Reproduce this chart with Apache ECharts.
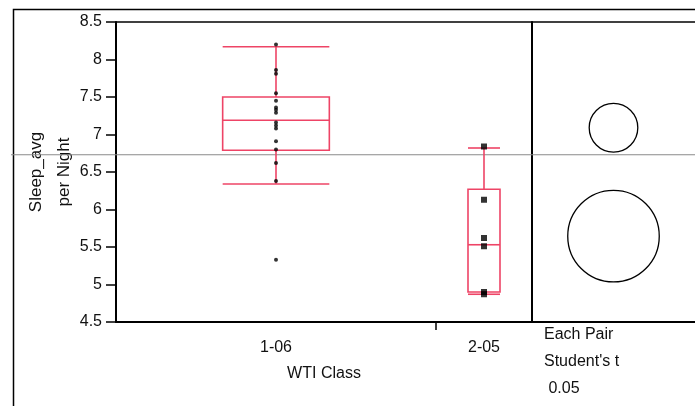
<!DOCTYPE html>
<html><head><meta charset="utf-8">
<script src="https://cdn.jsdelivr.net/npm/echarts@6/dist/echarts.min.js"></script>
<style>html,body{margin:0;padding:0;background:#fff}#c{width:695px;height:406px}</style>
</head><body><div id="c"></div>
<script>
// ---- data ----
const categories = ['1-06', '2-05'];
const groupN = [20, 6];                      // sample sizes (set the category widths)
const points1 = [8.20, 7.86, 7.81, 7.55, 7.45, 7.36, 7.33, 7.29, 7.16, 7.12, 7.08, 6.91, 6.80, 6.62, 6.38, 5.33];
const points2 = [6.84, 6.13, 5.62, 5.51, 4.90, 4.87];
const boxLow    = [6.34, 4.87];
const boxQ1     = [6.79, 4.90];
const boxMedian = [7.19, 5.53];
const boxQ3     = [7.50, 6.27];
const boxHigh   = [8.17, 6.82];
const grandMean = 6.73;
const circleMeans = [7.09, 5.645];
const circleRadii = [0.324, 0.61];
const yMin = 4.5, yMax = 8.5, yStep = 0.5;
const noteLines = ['Each Pair', "Student's t", ' 0.05'];

// ---- helpers ----
const starts = groupN.map((n, i) => groupN.slice(0, i).reduce((a, b) => a + b, 0));
const centers = groupN.map((n, i) => starts[i] + n / 2);
const total = groupN.reduce((a, b) => a + b, 0);
const boundaries = starts.slice(1);
const FONT = '"Liberation Sans", Arial, sans-serif';
const BOX = '#ee4466';

const boxData = categories.map((c, i) => [i, boxLow[i], boxQ1[i], boxMedian[i], boxQ3[i], boxHigh[i]]);

const chart = echarts.init(document.getElementById('c'), null, {renderer: 'canvas'});
chart.setOption({
  animation: false,
  backgroundColor: '#fff',
  textStyle: {fontFamily: FONT},
  grid: [
    {left: 116, top: 22, width: 416, height: 300, show: false},
    {left: 532, top: 22, width: 163, height: 300, show: false}
  ],
  xAxis: [
    {gridIndex: 0, type: 'value', min: 0, max: total,
     axisLine: {show: true, lineStyle: {color: '#000', width: 2}},
     axisTick: {show: true, customValues: boundaries, length: 8, lineStyle: {color: '#000', width: 1.5}},
     axisLabel: {show: true, customValues: centers, margin: 18, color: '#111', fontSize: 16, fontFamily: FONT,
       formatter: v => { const i = centers.findIndex(c => Math.abs(c - v) < 1e-6); return i >= 0 ? categories[i] : ''; }},
     splitLine: {show: false},
     name: 'WTI Class', nameLocation: 'middle', nameGap: 44, nameMoveOverlap: false,
     nameTextStyle: {color: '#111', fontSize: 16, fontFamily: FONT}},
    {gridIndex: 1, type: 'value', min: 0, max: 1,
     axisLine: {show: true, lineStyle: {color: '#000', width: 2}},
     axisTick: {show: false}, axisLabel: {show: false}, splitLine: {show: false}}
  ],
  yAxis: [
    {gridIndex: 0, type: 'value', min: yMin, max: yMax, interval: yStep,
     axisLine: {show: true, lineStyle: {color: '#000', width: 2}},
     axisTick: {show: true, length: 10, lineStyle: {color: '#000', width: 1.5}},
     axisLabel: {color: '#111', fontSize: 16, margin: 14, fontFamily: FONT},
     splitLine: {show: false},
     name: 'Sleep_avg\nper Night', nameLocation: 'middle', nameGap: 38, nameMoveOverlap: false,
     nameTextStyle: {color: '#111', fontSize: 17, lineHeight: 28, fontFamily: FONT}},
    {gridIndex: 1, type: 'value', min: yMin, max: yMax, interval: yStep,
     axisLine: {show: true, lineStyle: {color: '#000', width: 2}},
     axisTick: {show: false}, axisLabel: {show: false}, splitLine: {show: false}}
  ],
  graphic: [
    {type: 'rect', left: 11, top: 7, shape: {x: 0, y: 0, width: 720, height: 430},
     style: {fill: 'none', stroke: '#000', lineWidth: 1.5}, z: 1},
    {type: 'line', shape: {x1: 116, y1: 22, x2: 700, y2: 22},
     style: {stroke: '#000', lineWidth: 1.5}, z: 1},
    {type: 'text', left: 544, top: 327, style: {text: noteLines[0], fontSize: 16, fontFamily: FONT, fill: '#111'}},
    {type: 'text', left: 544, top: 354, style: {text: noteLines[1], fontSize: 16, fontFamily: FONT, fill: '#111'}},
    {type: 'text', left: 544, top: 381, style: {text: noteLines[2], fontSize: 16, fontFamily: FONT, fill: '#111'}}
  ],
  series: [
    {type: 'custom', xAxisIndex: 0, yAxisIndex: 0, clip: false, z: 1,
     data: [[grandMean]],
     renderItem: (params, api) => {
       const y = api.coord([0, api.value(0)])[1];
       return {type: 'line', shape: {x1: 11, y1: y, x2: 700, y2: y},
               style: {stroke: '#8a8a8a', lineWidth: 1.2}};
     }},
    {type: 'custom', xAxisIndex: 0, yAxisIndex: 0, z: 3,
     data: boxData,
     renderItem: (params, api) => {
       const g = api.value(0);
       const cx = centers[g], hw = groupN[g] / 6;
       const lo = api.value(1), q1 = api.value(2), md = api.value(3), q3 = api.value(4), hi = api.value(5);
       const xl = api.coord([cx - hw, q1])[0], xr = api.coord([cx + hw, q1])[0], xc = api.coord([cx, q1])[0];
       const Y = v => api.coord([cx, v])[1];
       const st = {stroke: BOX, fill: 'none', lineWidth: 1.6};
       return {type: 'group', children: [
         {type: 'rect', shape: {x: xl, y: Y(q3), width: xr - xl, height: Y(q1) - Y(q3)}, style: st},
         {type: 'line', shape: {x1: xl, y1: Y(md), x2: xr, y2: Y(md)}, style: st},
         {type: 'line', shape: {x1: xc, y1: Y(q3), x2: xc, y2: Y(hi)}, style: st},
         {type: 'line', shape: {x1: xc, y1: Y(q1), x2: xc, y2: Y(lo)}, style: st},
         {type: 'line', shape: {x1: xl, y1: Y(hi), x2: xr, y2: Y(hi)}, style: st},
         {type: 'line', shape: {x1: xl, y1: Y(lo), x2: xr, y2: Y(lo)}, style: st}
       ]};
     }},
    {type: 'scatter', xAxisIndex: 0, yAxisIndex: 0, z: 5, symbol: 'circle', symbolSize: 4,
     itemStyle: {color: '#000'}, data: points1.map(v => [centers[0], v])},
    {type: 'scatter', xAxisIndex: 0, yAxisIndex: 0, z: 5, symbol: 'rect', symbolSize: 6,
     itemStyle: {color: '#000'}, data: points2.map(v => [centers[1], v])},
    {type: 'custom', xAxisIndex: 1, yAxisIndex: 1, z: 4,
     data: circleMeans.map((m, i) => [m, circleRadii[i]]),
     renderItem: (params, api) => {
       const c = api.coord([0.5, api.value(0)]);
       const r = api.size([0, api.value(1)])[1];
       return {type: 'circle', shape: {cx: c[0], cy: c[1], r: r},
               style: {fill: 'none', stroke: '#000', lineWidth: 1.3}};
     }}
  ]
});
</script></body></html>
